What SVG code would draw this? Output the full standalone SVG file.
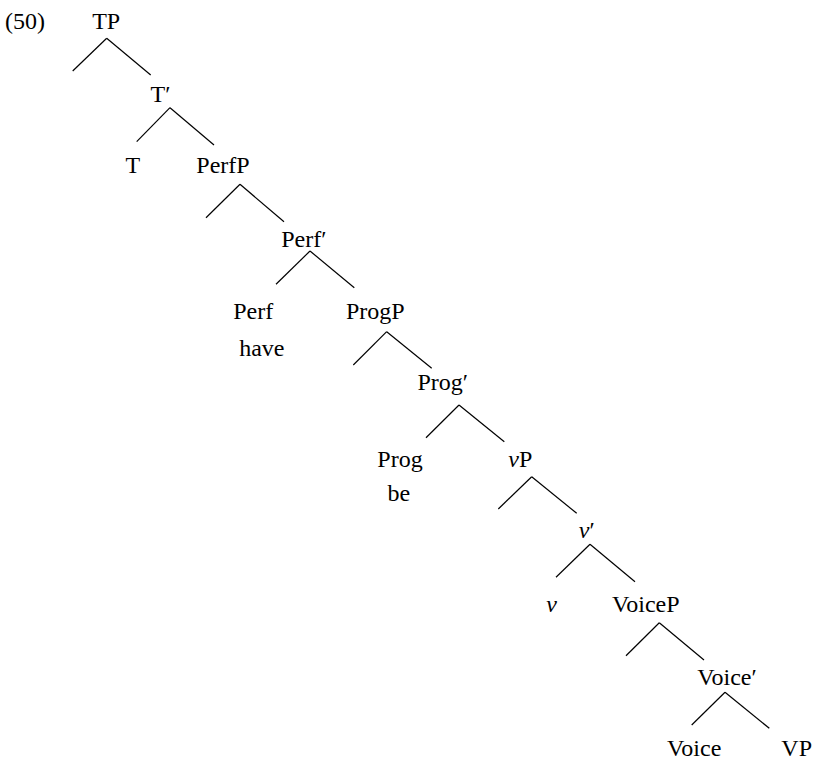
<svg xmlns="http://www.w3.org/2000/svg" width="818" height="761" viewBox="0 0 818 761">
<style>
text{font-family:'Liberation Serif','Tinos','Times New Roman','DejaVu Serif',serif;font-size:24px;fill:#000;text-anchor:middle}
.i{font-style:italic}
#edges line{stroke:#000;stroke-width:1.2;fill:none}
</style>
<rect width="818" height="761" fill="#fff"/>
<text x="5" y="29" style="text-anchor:start" font-family="Liberation Serif">(50)</text>
<g id="edges">
<line x1="106.7" y1="38.3" x2="72.7" y2="71"/>
<line x1="106.7" y1="38.3" x2="150.7" y2="75"/>
<line x1="170" y1="107.7" x2="136.7" y2="141.7"/>
<line x1="170" y1="107.7" x2="214" y2="145"/>
<line x1="240" y1="184.3" x2="206" y2="217.7"/>
<line x1="240" y1="184.3" x2="284" y2="221.7"/>
<line x1="310" y1="251" x2="276" y2="284.3"/>
<line x1="310" y1="251" x2="354.3" y2="287.7"/>
<line x1="386.7" y1="331.7" x2="353.3" y2="365"/>
<line x1="386.7" y1="331.7" x2="431.7" y2="368.3"/>
<line x1="459" y1="405" x2="426" y2="437.7"/>
<line x1="459" y1="405" x2="504.3" y2="441.7"/>
<line x1="531.7" y1="476.7" x2="498.3" y2="509"/>
<line x1="531.7" y1="476.7" x2="576.7" y2="513.3"/>
<line x1="590" y1="544.3" x2="556" y2="577.3"/>
<line x1="590" y1="544.3" x2="635" y2="581.7"/>
<line x1="659.3" y1="622.7" x2="626" y2="655.7"/>
<line x1="659.3" y1="622.7" x2="704" y2="660"/>
<line x1="725" y1="692.3" x2="691.7" y2="725"/>
<line x1="725" y1="692.3" x2="769.3" y2="728.3"/>
</g>
<g id="TP"><text x="106.2" y="29">TP</text></g>
<g id="Tbar"><text x="160.5" y="101.7">T′</text></g>
<g id="T"><text x="132.8" y="173">T</text></g>
<g id="PerfP"><text x="223" y="173">PerfP</text></g>
<g id="Perfbar"><text x="303.8" y="246.7">Perf′</text></g>
<g id="Perf"><text x="253.2" y="319.3">Perf</text><text x="261.8" y="356">have</text></g>
<g id="ProgP"><text x="375.3" y="319.3">ProgP</text></g>
<g id="Progbar"><text x="442.8" y="390">Prog′</text></g>
<g id="Prog"><text x="400" y="467.3">Prog</text><text x="398.8" y="500.7">be</text></g>
<g id="vP"><text x="520.3" y="467.3"><tspan class="i">v</tspan>P</text></g>
<g id="vbar"><text x="586.8" y="538.3"><tspan class="i">v</tspan>′</text></g>
<g id="v"><text x="551.7" y="611.7" class="i">v</text></g>
<g id="VoiceP"><text x="645.8" y="611.7">VoiceP</text></g>
<g id="Voicebar"><text x="727" y="685">Voice′</text></g>
<g id="Voice"><text x="694.2" y="756">Voice</text></g>
<g id="VP"><text x="796.7" y="756">VP</text></g>
</svg>
